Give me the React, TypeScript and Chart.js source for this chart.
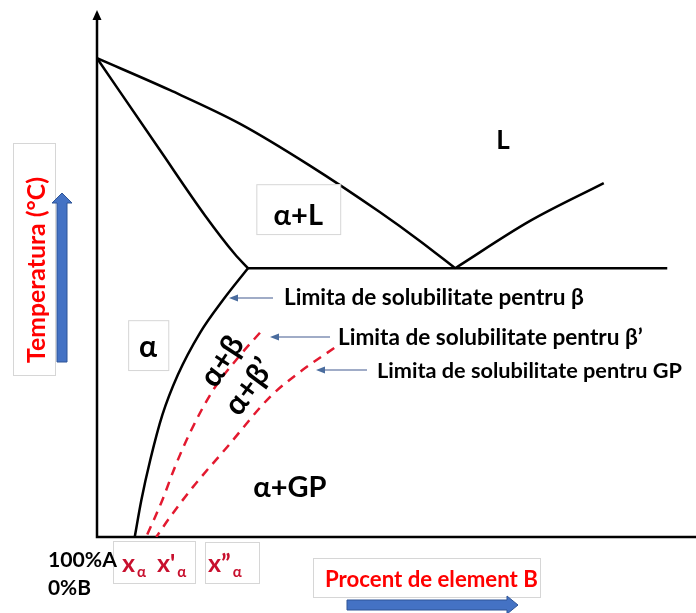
import React, { useEffect, useRef } from "react";
import { Chart, registerables } from "chart.js";

Chart.register(...registerables);

// Schematic phase diagram: composition (% B) vs temperature (relative units)
const liquidusB = [0, 12.2, 23.9, 35.6, 47.2, 53.9, 59.8];
const liquidusT = [91.2, 85.1, 78.7, 70.7, 61.9, 56.4, 51.2];
const solidusB = [0, 10.5, 18.0, 23.0, 25.2];
const solidusT = [91.2, 73.7, 61.3, 53.9, 51.2];
const eutecticB = [25.2, 95.2];
const eutecticT = [51.2, 51.2];
const liquidusRightB = [59.8, 72.3, 84.6];
const liquidusRightT = [51.2, 60.2, 67.4];
const solvusBetaB = [25.2, 21.0, 17.2, 13.5, 10.9, 8.9, 7.4, 6.3];
const solvusBetaT = [51.2, 45.1, 38.9, 30.9, 23.2, 14.7, 7.0, 0];
const solvusBetaPrimeB = [27.2, 23.5, 19.4, 15.5, 13.0, 10.9, 8.2];
const solvusBetaPrimeT = [38.9, 34.1, 28.0, 19.8, 13.3, 7.0, 0];
const solvusGPB = [39.6, 33.6, 28.9, 21.7, 16.0, 12.2, 9.9];
const solvusGPT = [36.0, 31.2, 26.7, 17.1, 9.5, 3.8, 0];

const regionLabels = ["L", "α+L", "α", "α+β", "α+β’", "α+GP"];
const limitLabels = [
  "Limita de solubilitate pentru β",
  "Limita de solubilitate pentru β’",
  "Limita de solubilitate pentru GP",
];
const yAxisLabel = "Temperatura (°C)";
const xAxisLabel = "Procent de element B";
const originLabels = ["100%A", "0%B"];
const compLabels = ["x", "x'", "x”"];
const compSub = "α";

const FONT = "Lato, 'Open Sans', 'DejaVu Sans', sans-serif";

function zip(xs: number[], ys: number[]) {
  return xs.map((x, i) => ({ x, y: ys[i] }));
}

function fitSize(ctx: CanvasRenderingContext2D, text: string, width: number) {
  ctx.font = `bold 100px ${FONT}`;
  const w = ctx.measureText(text).width;
  return (100 * width) / w;
}

function box(ctx: CanvasRenderingContext2D, x0: number, y0: number, x1: number, y1: number) {
  ctx.fillStyle = "#ffffff";
  ctx.fillRect(x0, y0, x1 - x0, y1 - y0);
  ctx.strokeStyle = "#d6d6d6";
  ctx.lineWidth = 1;
  ctx.strokeRect(x0 + 0.5, y0 + 0.5, x1 - x0, y1 - y0);
}

function leftArrow(ctx: CanvasRenderingContext2D, x0: number, x1: number, y: number) {
  ctx.strokeStyle = "#8090b4";
  ctx.lineWidth = 1.3;
  ctx.beginPath();
  ctx.moveTo(x0, y);
  ctx.lineTo(x1 + 6, y);
  ctx.stroke();
  ctx.fillStyle = "#4a6c9e";
  ctx.beginPath();
  ctx.moveTo(x1, y);
  ctx.lineTo(x1 + 9, y - 3.5);
  ctx.lineTo(x1 + 9, y + 3.5);
  ctx.closePath();
  ctx.fill();
}

const overlay = {
  id: "overlay",
  beforeDatasetsDraw(chart: any) {
    const { ctx, chartArea: a } = chart;
    ctx.save();
    ctx.strokeStyle = "#000";
    ctx.lineWidth = 2.5;
    ctx.beginPath();
    ctx.moveTo(a.left, a.top + 6);
    ctx.lineTo(a.left, a.bottom);
    ctx.lineTo(a.right, a.bottom);
    ctx.stroke();
    ctx.fillStyle = "#000";
    ctx.beginPath();
    ctx.moveTo(a.left, a.top - 2);
    ctx.lineTo(a.left - 4.5, a.top + 8);
    ctx.lineTo(a.left + 4.5, a.top + 8);
    ctx.closePath();
    ctx.fill();
    ctx.restore();
  },
  afterDatasetsDraw(chart: any) {
    const { ctx, scales } = chart;
    const X = (v: number) => scales.x.getPixelForValue(v);
    const Y = (v: number) => scales.y.getPixelForValue(v);
    ctx.save();
    ctx.textBaseline = "alphabetic";
    ctx.textAlign = "left";

    // Region labels
    ctx.fillStyle = "#000";
    ctx.font = `bold 26px ${FONT}`;
    ctx.textAlign = "center";
    ctx.fillText(regionLabels[0], X(67.8), Y(73.9));

    box(ctx, X(26.6), Y(67.2), X(40.6), Y(57.7));
    ctx.fillStyle = "#000";
    ctx.font = `bold 29px ${FONT}`;
    ctx.fillText(regionLabels[1], X(33.6), Y(59.4));

    box(ctx, X(5.2), Y(41.3), X(11.9), Y(31.8));
    ctx.fillStyle = "#000";
    ctx.font = `bold 30px ${FONT}`;
    ctx.fillText(regionLabels[2], X(8.5), Y(34.2));

    ctx.textBaseline = "middle";
    ctx.save();
    ctx.translate(X(20.9), Y(33.5));
    ctx.rotate((-57 * Math.PI) / 180);
    ctx.font = `bold 31px ${FONT}`;
    ctx.fillText(regionLabels[3], 0, 0);
    ctx.restore();
    ctx.save();
    ctx.translate(X(25.4), Y(28.6));
    ctx.rotate((-54 * Math.PI) / 180);
    ctx.font = `bold 31px ${FONT}`;
    ctx.fillText(regionLabels[4], 0, 0);
    ctx.restore();

    ctx.textBaseline = "alphabetic";
    ctx.font = `bold 29px ${FONT}`;
    ctx.fillText(regionLabels[5], X(32.2), Y(7.6));

    // Solubility limit annotations
    ctx.textAlign = "left";
    const anchors = [
      { tx: 284, ty: 305, ay: 298, ax0: 273, ax1: 229, w: 300 },
      { tx: 338, ty: 345, ay: 337, ax0: 330, ax1: 270, w: 305 },
      { tx: 377, ty: 378, ay: 370, ax0: 367, ax1: 316, w: 305 },
    ];
    anchors.forEach((an, i) => {
      leftArrow(ctx, an.ax0, an.ax1, an.ay);
      const s = fitSize(ctx, limitLabels[i], an.w);
      ctx.font = `bold ${s}px ${FONT}`;
      ctx.fillStyle = "#000";
      ctx.fillText(limitLabels[i], an.tx, an.ty);
    });

    // Y axis label with box and blue arrow
    box(ctx, 13, 143, 55, 375);
    ctx.save();
    ctx.translate(45, 270);
    ctx.rotate(-Math.PI / 2);
    ctx.textAlign = "center";
    ctx.fillStyle = "#ff0000";
    ctx.font = `bold ${fitSize(ctx, yAxisLabel, 186)}px ${FONT}`;
    ctx.fillText(yAxisLabel, 0, 0);
    ctx.restore();

    ctx.fillStyle = "#4472c4";
    ctx.strokeStyle = "#2f5597";
    ctx.lineWidth = 1;
    ctx.beginPath();
    ctx.moveTo(57, 362);
    ctx.lineTo(57, 203);
    ctx.lineTo(52, 203);
    ctx.lineTo(62, 193);
    ctx.lineTo(72, 203);
    ctx.lineTo(67, 203);
    ctx.lineTo(67, 362);
    ctx.closePath();
    ctx.fill();
    ctx.stroke();

    // Composition labels
    box(ctx, 113, 541, 195, 583);
    box(ctx, 205, 542, 259, 583);
    const compX = [122, 157, 208];
    compLabels.forEach((t, i) => {
      ctx.fillStyle = "#c8102e";
      ctx.font = `bold 25px ${FONT}`;
      ctx.fillText(t, compX[i], 572);
      const w = ctx.measureText(t).width;
      ctx.font = `bold 15px ${FONT}`;
      ctx.fillText(compSub, compX[i] + w + 2, 577);
    });

    // Origin labels
    ctx.fillStyle = "#000";
    ctx.font = `bold ${fitSize(ctx, originLabels[0], 69)}px ${FONT}`;
    ctx.fillText(originLabels[0], 48, 567);
    ctx.font = `bold ${fitSize(ctx, originLabels[1], 43)}px ${FONT}`;
    ctx.fillText(originLabels[1], 48, 595);

    // X axis label with box and blue arrow
    box(ctx, 313, 558, 540, 597);
    ctx.fillStyle = "#ff0000";
    ctx.font = `bold ${fitSize(ctx, xAxisLabel, 213)}px ${FONT}`;
    ctx.fillText(xAxisLabel, 325, 587);

    ctx.fillStyle = "#4472c4";
    ctx.strokeStyle = "#2f5597";
    ctx.beginPath();
    ctx.moveTo(347, 600);
    ctx.lineTo(507, 600);
    ctx.lineTo(507, 596);
    ctx.lineTo(518, 605);
    ctx.lineTo(507, 614);
    ctx.lineTo(507, 610);
    ctx.lineTo(347, 610);
    ctx.closePath();
    ctx.fill();
    ctx.stroke();

    ctx.restore();
  },
};

export default function App() {
  const ref = useRef<HTMLCanvasElement | null>(null);
  useEffect(() => {
    if (!ref.current) return;
    const solid = { showLine: true, pointRadius: 0, borderColor: "#000", borderWidth: 2.5, cubicInterpolationMode: "monotone", fill: false };
    const dashed = { showLine: true, pointRadius: 0, borderColor: "#e3192f", borderWidth: 2.5, borderDash: [9, 7], cubicInterpolationMode: "monotone", fill: false };
    const chart = new Chart(ref.current, {
      type: "scatter",
      data: {
        datasets: [
          { label: "liquidus", data: zip(liquidusB, liquidusT), ...solid },
          { label: "solidus", data: zip(solidusB, solidusT), ...solid },
          { label: "eutectic", data: zip(eutecticB, eutecticT), ...solid },
          { label: "liquidus B", data: zip(liquidusRightB, liquidusRightT), ...solid },
          { label: "solvus β", data: zip(solvusBetaB, solvusBetaT), ...solid },
          { label: "solvus β'", data: zip(solvusBetaPrimeB, solvusBetaPrimeT), ...dashed },
          { label: "solvus GP", data: zip(solvusGPB, solvusGPT), ...dashed },
        ] as any,
      },
      options: {
        responsive: false,
        animation: false,
        layout: { padding: { left: 97, top: 12, right: 0, bottom: 76 } },
        scales: {
          x: { type: "linear", min: 0, max: 100, display: false },
          y: { type: "linear", min: 0, max: 100, display: false },
        },
        plugins: { legend: { display: false }, tooltip: { enabled: false } },
      },
      plugins: [overlay],
    });
    return () => chart.destroy();
  }, []);
  return (
    <div style={{ position: "absolute", left: 0, top: 0, width: 696, height: 613, background: "#fff" }}>
      <canvas ref={ref} width={696} height={613} style={{ display: "block" }} />
    </div>
  );
}
